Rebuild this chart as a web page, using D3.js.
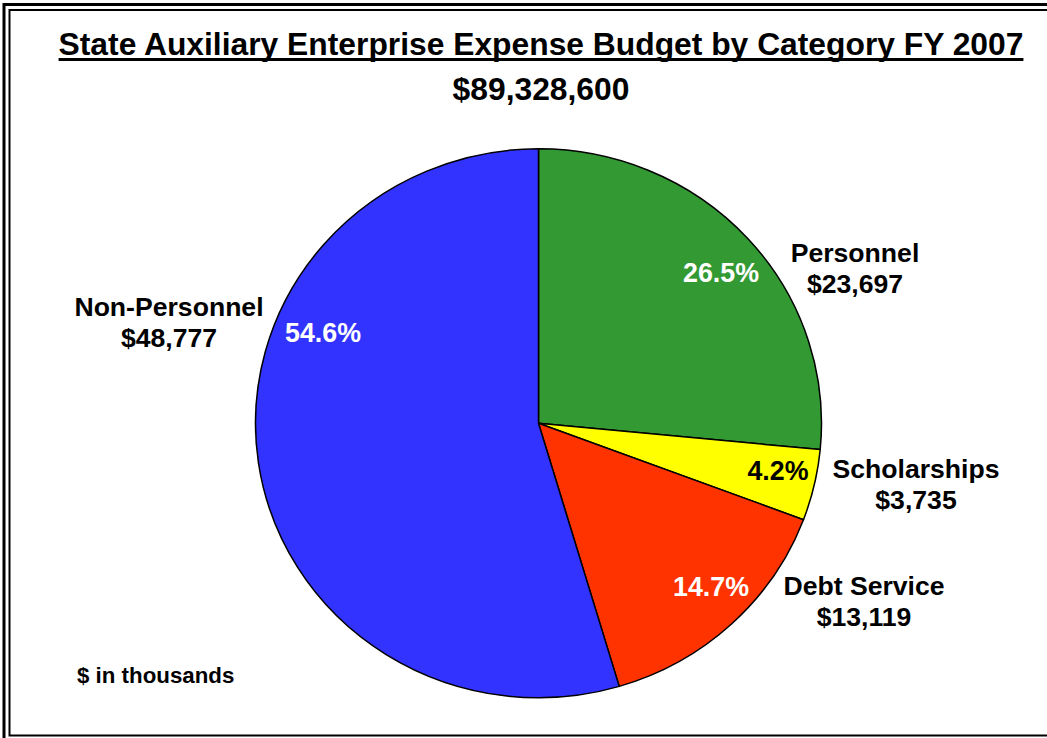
<!DOCTYPE html>
<html>
<head>
<meta charset="utf-8">
<script src="https://cdn.jsdelivr.net/npm/d3@7/dist/d3.min.js"></script>
<style>
  html, body { margin: 0; padding: 0; background: #fff; }
  svg { display: block; }
  text { font-family: "Liberation Sans", Arial, Helvetica, sans-serif; font-weight: bold; }
</style>
</head>
<body>
<svg id="chart" width="1047" height="738"></svg>
<script>
// Expense budget by category, FY 2007 ($ in thousands)
const categories = ["Personnel", "Scholarships", "Debt Service", "Non-Personnel"];
const amounts = [23697, 3735, 13119, 48777];
const percentLabels = ["26.5%", "4.2%", "14.7%", "54.6%"];
const amountLabels = ["$23,697", "$3,735", "$13,119", "$48,777"];
const sliceColors = ["#339933", "#FFFF00", "#FF3300", "#3333FF"];
const percentColors = ["#FFFFFF", "#000000", "#FFFFFF", "#FFFFFF"];

const titleText = "State Auxiliary Enterprise Expense Budget by Category FY 2007";
const totalText = "$89,328,600";
const unitsText = "$ in thousands";

// Label placement (pixels)
const percentPos = [[721, 282], [778, 480], [711, 596], [323, 342]];
const namePos = [[855, 262], [916, 478], [864, 595], [169, 316]];

const W = 1047, H = 738;
const cx = 538.5, cy = 423.3, rx = 283, ry = 274.5;

const svg = d3.select("#chart");

// Double frame
svg.append("rect").attr("x", 4).attr("y", 4.5).attr("width", 1100).attr("height", 800)
  .attr("fill", "none").attr("stroke", "#000").attr("stroke-width", 3);
svg.append("rect").attr("x", 9.5).attr("y", 10).attr("width", 1100).attr("height", 725.5)
  .attr("fill", "none").attr("stroke", "#000").attr("stroke-width", 2);

// Title with underline
const title = svg.append("text").attr("x", 541).attr("y", 55)
  .attr("text-anchor", "middle").attr("font-size", 31.8).attr("fill", "#000")
  .text(titleText);
const tw = title.node().getComputedTextLength();
svg.append("line").attr("x1", 541 - tw / 2).attr("x2", 541 + tw / 2)
  .attr("y1", 59.5).attr("y2", 59.5).attr("stroke", "#000").attr("stroke-width", 3);

svg.append("text").attr("x", 541).attr("y", 100)
  .attr("text-anchor", "middle").attr("font-size", 31.8).attr("fill", "#000")
  .text(totalText);

// Pie, drawn clockwise from 12 o'clock
const pie = d3.pie().sort(null).value(d => d)
  .startAngle(0).endAngle(2 * Math.PI);
const arcs = pie(amounts);
const arc = d3.arc().innerRadius(0).outerRadius(ry);

const pieG = svg.append("g")
  .attr("transform", `translate(${cx},${cy}) scale(${rx / ry},1)`);
pieG.selectAll("path").data(arcs).join("path")
  .attr("d", arc)
  .attr("fill", (d, i) => sliceColors[i])
  .attr("stroke", "#000")
  .attr("stroke-width", 1.5)
  .attr("stroke-linejoin", "round")
  .attr("vector-effect", "non-scaling-stroke");

// Percentage labels inside slices
svg.selectAll("text.pct").data(arcs).join("text")
  .attr("class", "pct")
  .attr("x", (d, i) => percentPos[i][0])
  .attr("y", (d, i) => percentPos[i][1])
  .attr("text-anchor", "middle")
  .attr("font-size", 26.8)
  .attr("fill", (d, i) => percentColors[i])
  .text((d, i) => percentLabels[i]);

// Category name and amount labels
const nameG = svg.selectAll("g.cat").data(categories).join("g").attr("class", "cat");
nameG.append("text")
  .attr("x", (d, i) => namePos[i][0])
  .attr("y", (d, i) => namePos[i][1])
  .attr("text-anchor", "middle").attr("font-size", 26.6).attr("fill", "#000")
  .text(d => d);
nameG.append("text")
  .attr("x", (d, i) => namePos[i][0])
  .attr("y", (d, i) => namePos[i][1] + 31)
  .attr("text-anchor", "middle").attr("font-size", 26.6).attr("fill", "#000")
  .text((d, i) => amountLabels[i]);

svg.append("text").attr("x", 77).attr("y", 683)
  .attr("font-size", 22.3).attr("fill", "#000")
  .text(unitsText);
</script>
</body>
</html>
